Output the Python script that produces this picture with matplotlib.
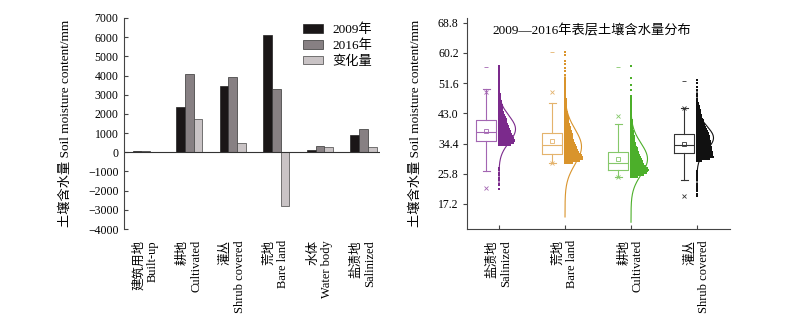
import numpy as np
import matplotlib
matplotlib.use("Agg")
import matplotlib.pyplot as plt
from matplotlib.patches import Patch

plt.rcParams['font.family'] = ['Liberation Serif', 'Noto Sans CJK SC']
plt.rcParams['axes.unicode_minus'] = True

# soil moisture by land use type
land_types = ['建筑用地\nBuilt-up', '耕地\nCultivated', '灌丛\nShrub covered',
              '荒地\nBare land', '水体\nWater body', '盐渍地\nSalinized']
moist_2009 = [50, 2350, 3440, 6120, 100, 920]
moist_2016 = [80, 4070, 3930, 3300, 350, 1220]
moist_change = [30, 1720, 490, -2820, 250, 300]
series_names = ['2009年', '2016年', '变化量']

# surface soil moisture distribution 2009-2016
dist_types = ['盐渍地\nSalinized', '荒地\nBare land', '耕地\nCultivated', '灌丛\nShrub covered']
q1 = [35.2, 31.4, 26.9, 31.6]
median = [37.6, 34.0, 28.8, 33.9]
q3 = [41.1, 37.3, 32.1, 37.0]
mean = [38.0, 35.1, 30.0, 34.3]
whisker_lo = [26.7, 29.0, 24.8, 24.0]
whisker_hi = [49.8, 46.0, 39.9, 44.6]
pct_lo = [21.7, 29.0, 24.8, 19.5]
pct_hi = [49.2, 49.2, 42.3, 44.6]
max_val = [56.3, 60.4, 56.3, 52.3]
curve_mu = [38.5, 33.5, 30.0, 36.0]
curve_sd = [3.8, 5.0, 4.5, 3.3]

# sample counts per 0.5 mm bin, starting at bin_start
bin_start = [21.5, 29.0, 25.0, 19.5]
counts_salinized = [1, 0, 1, 1, 0, 1, 1, 0, 1, 1, 0, 1, 1,
                    0, 0, 0, 0, 0, 0, 0, 0, 0, 0, 0, 0,
                    14, 18, 20, 20, 18, 17,
                    16, 15, 14, 13, 12, 12, 11,
                    10, 9, 9, 8, 7, 6, 6, 5,
                    5, 4, 4, 3, 3, 2, 2, 2,
                    2, 1, 1, 1, 1, 1, 1, 1, 1, 1, 1, 1, 1, 1, 1, 1, 1]
counts_bare = [10, 18, 22, 22, 21, 19, 17,
               16, 15, 14, 13, 12, 11, 11, 10,
               9, 9, 8, 8, 7, 7, 6, 6,
               5, 5, 4, 4, 3, 3, 3, 2,
               2, 2, 2, 2, 2, 2, 1, 1, 1, 1, 1, 1, 1, 1, 1, 1, 1, 1,
               0, 1, 0, 1, 0, 1, 0, 1, 0, 1, 0, 0, 1, 0, 1]
counts_cultivated = [8, 16, 20, 21, 22, 21, 18,
                     16, 15, 14, 13, 12, 11, 10, 9,
                     8, 8, 7, 6, 6, 5, 5, 4,
                     4, 3, 3, 3, 2, 2, 2, 2,
                     2, 2, 1, 1, 1, 1, 1, 1, 1, 1, 1, 1, 1, 1, 1, 1,
                     0, 0, 1, 0, 0, 1, 0, 0, 0, 1, 0, 0, 0, 0, 0, 0, 1]
counts_shrub = [1, 1, 0, 1, 1, 1, 1, 1, 0, 1, 1, 1, 1, 1, 1,
                0, 0, 0, 0, 0,
                6, 16, 21, 20, 19, 19, 18, 18,
                18, 17, 17, 17, 16, 16, 16, 15,
                14, 13, 12, 11, 10, 9, 8, 8,
                7, 6, 6, 5, 4, 4, 3, 3,
                2, 2, 1, 1, 0, 1, 1, 0, 1, 0, 1, 0, 1, 0, 1]
bin_counts = [counts_salinized, counts_bare, counts_cultivated, counts_shrub]

dot_colors = ['#7b2a8c', '#d9942c', '#4caf2a', '#111111']
box_colors = ['#a366b2', '#e4b36c', '#85c86a', '#333333']

fig = plt.figure(figsize=(8, 3.24), dpi=100)

# ---------------- bar chart ----------------
ax1 = fig.add_axes([124 / 800, 1 - 229 / 324, 256 / 800, 211 / 324])
x = np.arange(len(land_types))
bw = 0.2
ax1.bar(x - bw, moist_2009, bw, color='#1a1617', edgecolor='#222', lw=0.5)
ax1.bar(x, moist_2016, bw, color='#878083', edgecolor='#333', lw=0.5)
ax1.bar(x + bw, moist_change, bw, color='#c9c3c5', edgecolor='#444', lw=0.5)
ax1.axhline(0, color='#333', lw=0.8)
ax1.set_xlim(-0.5, 5.38)
ax1.set_ylim(-4000, 7000)
ax1.set_yticks(np.arange(-4000, 7001, 1000))
for s in ['top', 'right', 'bottom']:
    ax1.spines[s].set_visible(False)
ax1.spines['left'].set_color('#444')
ax1.spines['left'].set_linewidth(0.8)
ax1.tick_params(axis='y', direction='in', length=3, width=0.8, color='#444',
                labelsize=8.5, pad=4)
ax1.set_xticks(x)
ax1.set_xticklabels(land_types, rotation=90, fontsize=9, ma='right', va='top')
ax1.tick_params(axis='x', length=0, pad=8)
ax1.set_ylabel('土壤含水量 Soil moisture content/mm', fontsize=9.5)
ax1.yaxis.set_label_coords(-0.205, 0.5)

handles = [Patch(facecolor='#1a1617', edgecolor='#222', lw=0.5),
           Patch(facecolor='#878083', edgecolor='#333', lw=0.5),
           Patch(facecolor='#c9c3c5', edgecolor='#444', lw=0.5)]
fig.legend(handles, series_names, loc='upper left', bbox_to_anchor=(296 / 800, 1 - 17 / 324),
           frameon=False, fontsize=9.5, borderpad=0, handlelength=1.55, handleheight=0.6,
           handletextpad=0.7, labelspacing=0.25)

# ---------------- distribution chart ----------------
ax2 = fig.add_axes([467 / 800, 1 - 229 / 324, 263 / 800, 211 / 324])
ticks = np.arange(1, len(dist_types) + 1)
step = 0.012
peak_w = 0.25
for i, t in enumerate(ticks):
    # binned samples stacked to the right of the tick
    xs, ys = [], []
    for j, n in enumerate(bin_counts[i]):
        yv = bin_start[i] + 0.5 * j
        for k in range(n):
            xs.append(t + 0.004 + step * k)
            ys.append(yv)
    ax2.scatter(xs, ys, s=3, marker='s', color=dot_colors[i], lw=0, zorder=3)

    # normal curve
    yy = np.linspace(curve_mu[i] - 4 * curve_sd[i], curve_mu[i] + 4 * curve_sd[i], 200)
    xx = t + peak_w * np.exp(-0.5 * ((yy - curve_mu[i]) / curve_sd[i]) ** 2)
    ax2.plot(xx, yy, color=dot_colors[i], lw=0.8, zorder=2)

    # box
    c = box_colors[i]
    st = [dict(med=median[i], q1=q1[i], q3=q3[i], whislo=whisker_lo[i],
               whishi=whisker_hi[i], mean=mean[i], fliers=[])]
    pos = t - 0.195
    ax2.bxp(st, positions=[pos], widths=0.30, capwidths=0.11, showmeans=True,
            manage_ticks=False,
            boxprops=dict(color=c, lw=0.8), whiskerprops=dict(color=c, lw=0.8),
            capprops=dict(color=c, lw=0.8), medianprops=dict(color=c, lw=0.8),
            meanprops=dict(marker='s', markerfacecolor='none', markeredgecolor=c,
                           markersize=3, markeredgewidth=0.6))
    ax2.plot([pos, pos], [pct_lo[i], pct_hi[i]], ls='none', marker='x', ms=3,
             mew=0.6, color=c)
    ax2.plot([pos], [max_val[i]], ls='none', marker='_', ms=3, mew=0.6, color=c)

ax2.set_xlim(0.515, 4.5)
ax2.set_ylim(10.07, 70.14)
yt = [17.2, 25.8, 34.4, 43.0, 51.6, 60.2, 68.8]
ax2.set_yticks(yt)
ax2.set_yticklabels([f'{v:.1f}' for v in yt])
for s in ['top', 'right']:
    ax2.spines[s].set_visible(False)
for s in ['left', 'bottom']:
    ax2.spines[s].set_color('#444')
    ax2.spines[s].set_linewidth(0.8)
ax2.tick_params(axis='y', direction='out', length=3, width=0.8, color='#444',
                labelsize=8.5, pad=3)
ax2.set_xticks(ticks)
ax2.set_xticklabels(dist_types, rotation=90, fontsize=9, ma='right', va='top')
ax2.tick_params(axis='x', direction='in', length=3, width=0.8, color='#444', pad=8)
ax2.set_ylabel('土壤含水量 Soil moisture content/mm', fontsize=9.5)
ax2.yaxis.set_label_coords(-0.171, 0.5)
ax2.text(0.475, 0.938, '2009—2016年表层土壤含水量分布', transform=ax2.transAxes,
         ha='center', va='center', fontsize=9.5)

fig.savefig('out.png', dpi=100)
